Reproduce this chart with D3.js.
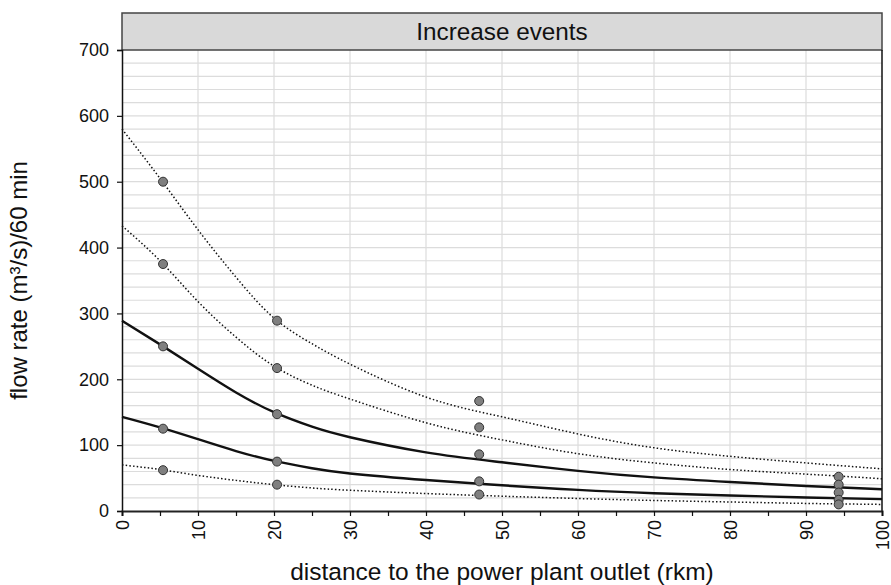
<!DOCTYPE html>
<html>
<head>
<meta charset="utf-8">
<script src="https://cdn.jsdelivr.net/npm/d3@7"></script>
<style>
  body { margin: 0; background: #fff; }
  svg { display: block; font-family: "Liberation Sans", Arial, sans-serif; }
</style>
</head>
<body>
<svg id="chart" width="891" height="585"></svg>
<script>
// measured points (distance rkm, flow rate)
var pointX = [5.4, 5.4, 5.4, 5.4, 5.4,
              20.4, 20.4, 20.4, 20.4, 20.4,
              47, 47, 47, 47, 47,
              94.3, 94.3, 94.3, 94.3, 94.3];
var pointY = [500, 375, 250, 125, 62,
              289, 217, 147, 75, 40,
              167, 127, 86, 45, 25,
              52, 40, 28, 17, 10];

// fitted curves
var curveX = [0, 5, 10, 15, 20, 25, 30, 40, 50, 60, 70, 80, 90, 100];
var curveMain = [289, 253, 216, 180, 150, 128, 112, 89, 74, 61, 51, 44, 38, 33];
var curveHalf = [143, 127, 109, 91, 76, 65, 57, 47, 39, 32, 27, 23.5, 20.5, 18];
var curveTop = [580, 505, 427, 355, 293, 254, 223, 173, 143, 117, 96, 83, 73, 64];
var curveUpper = [433, 380, 318, 264, 220, 191, 170, 134, 108, 87, 73, 63, 56, 49];
var curveLow = [70, 63, 54, 46.5, 40, 35, 31.5, 26.5, 22.5, 19, 16, 13.7, 11.5, 10];

var xTicks = [0, 10, 20, 30, 40, 50, 60, 70, 80, 90, 100];
var yTicks = [0, 100, 200, 300, 400, 500, 600, 700];

var pLeft = 122, pRight = 882, pTop = 50, pBottom = 511;
var svg = d3.select("#chart");

var x = d3.scaleLinear().domain([0, 100]).range([pLeft, pRight]);
var y = d3.scaleLinear().domain([0, 700]).range([pBottom, pTop]);

// grid
svg.append("g").selectAll("line").data(d3.range(20, 700, 20)).enter()
  .append("line")
  .attr("x1", pLeft).attr("x2", pRight)
  .attr("y1", function(d){ return y(d); }).attr("y2", function(d){ return y(d); })
  .attr("stroke", "#dcdcdc").attr("stroke-width", 1.2);
svg.append("g").selectAll("line").data(xTicks.slice(1, -1)).enter()
  .append("line")
  .attr("x1", function(d){ return x(d); }).attr("x2", function(d){ return x(d); })
  .attr("y1", pTop).attr("y2", pBottom)
  .attr("stroke", "#dcdcdc").attr("stroke-width", 1.2);

// strip
svg.append("rect")
  .attr("x", pLeft).attr("y", 13).attr("width", pRight - pLeft).attr("height", pTop - 13)
  .attr("fill", "#d9d9d9").attr("stroke", "#444").attr("stroke-width", 1.5);
svg.append("text")
  .attr("x", (pLeft + pRight) / 2).attr("y", 40)
  .attr("text-anchor", "middle").attr("font-size", 24.3).attr("fill", "#111")
  .text("Increase events");

// right border
svg.append("line").attr("x1", pRight).attr("x2", pRight).attr("y1", pTop).attr("y2", pBottom)
  .attr("stroke", "#111").attr("stroke-width", 1.5);

// curves
var line = d3.line()
  .x(function(d, i){ return x(curveX[i]); })
  .y(function(d){ return y(d); })
  .curve(d3.curveNatural);

[curveTop, curveUpper, curveLow].forEach(function(c){
  svg.append("path").attr("d", line(c))
    .attr("fill", "none").attr("stroke", "#111").attr("stroke-width", 1.5)
    .attr("stroke-dasharray", "1.5,2.2");
});
[curveMain, curveHalf].forEach(function(c){
  svg.append("path").attr("d", line(c))
    .attr("fill", "none").attr("stroke", "#111").attr("stroke-width", 2.4);
});

// points
svg.append("g").selectAll("circle").data(pointY).enter()
  .append("circle")
  .attr("cx", function(d, i){ return x(pointX[i]); })
  .attr("cy", function(d){ return y(d); })
  .attr("r", 4.5)
  .attr("fill", "#7f7f7f").attr("stroke", "#333").attr("stroke-width", 1);

// axes
var yAxis = d3.axisLeft(y).tickValues(yTicks).tickSize(5).tickPadding(8);
var gy = svg.append("g").attr("transform", "translate(" + pLeft + ",0)").call(yAxis);
gy.select(".domain").attr("stroke", "#111").attr("stroke-width", 1.5);
gy.selectAll(".tick line").attr("stroke", "#111").attr("stroke-width", 1.2);
gy.selectAll("text").attr("font-size", 18).attr("fill", "#111")
  .attr("font-family", "Liberation Sans, Arial, sans-serif");

var xAxis = d3.axisBottom(x).tickValues(d3.range(0, 101, 5)).tickSize(5)
  .tickFormat(function(d){ return d % 10 == 0 ? d : ""; });
var gx = svg.append("g").attr("transform", "translate(0," + pBottom + ")").call(xAxis);
gx.select(".domain").attr("stroke", "#222").attr("stroke-width", 2);
gx.selectAll(".tick line").attr("stroke", "#111").attr("stroke-width", 1.2);
gx.selectAll("text")
  .attr("font-size", 18).attr("fill", "#111")
  .attr("font-family", "Liberation Sans, Arial, sans-serif")
  .attr("transform", "rotate(-90)")
  .attr("text-anchor", "end")
  .attr("x", -9).attr("y", 0).attr("dy", "0.35em");

// axis titles
svg.append("text")
  .attr("x", (pLeft + pRight) / 2).attr("y", 580)
  .attr("text-anchor", "middle").attr("font-size", 24.5).attr("fill", "#111")
  .text("distance to the power plant outlet (rkm)");
svg.append("text")
  .attr("transform", "translate(27," + ((pTop + pBottom) / 2) + ") rotate(-90)")
  .attr("text-anchor", "middle").attr("font-size", 24).attr("fill", "#111")
  .text("flow rate (m³/s)/60 min");
</script>
</body>
</html>
